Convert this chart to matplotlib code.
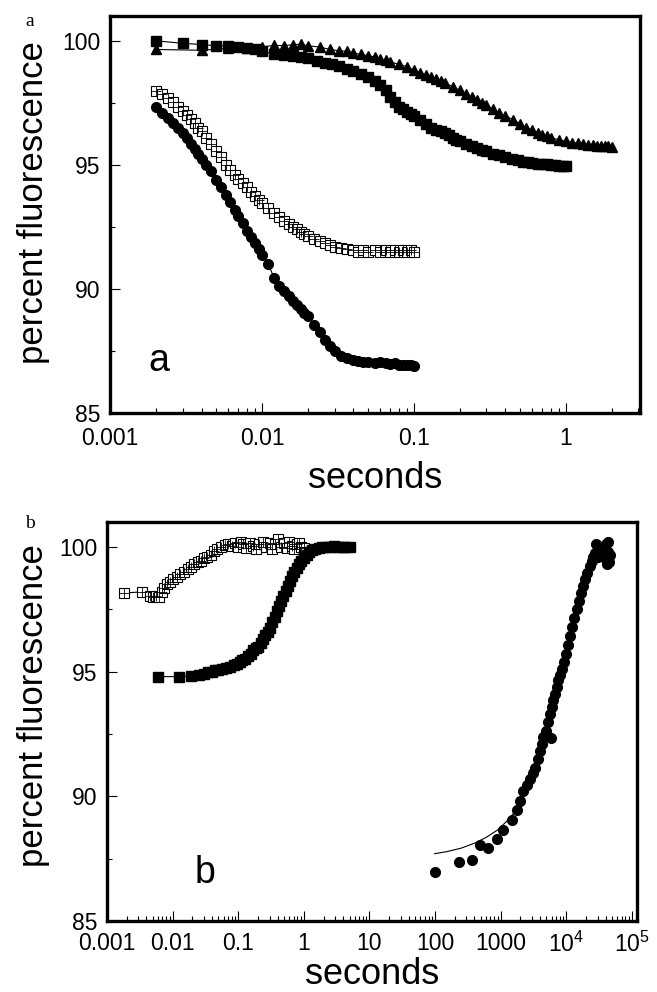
import matplotlib
matplotlib.use("Agg")
import matplotlib.pyplot as plt
from matplotlib.ticker import FixedLocator, FixedFormatter, LogLocator, NullFormatter

plt.rcParams['font.family'] = ['Liberation Sans', 'DejaVu Sans']
plt.rcParams['mathtext.fontset'] = 'custom'
plt.rcParams['mathtext.rm'] = 'Liberation Sans'
plt.rcParams['mathtext.it'] = 'Liberation Sans'

# ---------------- panel a data ----------------
a_sq_x = [0.002, 0.003, 0.004, 0.005, 0.006, 0.007, 0.008, 0.009, 0.010, 0.012, 0.014, 0.016,
          0.018, 0.020, 0.023, 0.026, 0.029, 0.032, 0.036, 0.040, 0.045, 0.050, 0.055, 0.060,
          0.065, 0.070, 0.075, 0.080, 0.085, 0.090, 0.095, 0.10, 0.11, 0.12, 0.13, 0.14, 0.15,
          0.16, 0.17, 0.18, 0.19, 0.20, 0.22, 0.24, 0.26, 0.28, 0.30, 0.33, 0.36, 0.40, 0.44,
          0.48, 0.52, 0.56, 0.60, 0.65, 0.70, 0.75, 0.80, 0.85, 0.90, 0.95, 1.0]
a_sq_y = [100.0, 99.9, 99.85, 99.8, 99.78, 99.75, 99.7, 99.66, 99.6, 99.45, 99.42, 99.4,
          99.33, 99.3, 99.2, 99.12, 99.05, 98.98, 98.86, 98.78, 98.65, 98.55, 98.4, 98.2,
          98.0, 97.75, 97.55, 97.35, 97.25, 97.15, 97.05, 96.95, 96.8, 96.65, 96.5, 96.42, 96.35,
          96.28, 96.2, 96.1, 96.0, 95.95, 95.85, 95.75, 95.68, 95.6, 95.55, 95.45, 95.38, 95.3, 95.22,
          95.18, 95.12, 95.1, 95.08, 95.05, 95.05, 95.02, 95.0, 94.98, 94.97, 94.95, 94.95]

a_tri_x = [0.002, 0.004, 0.006, 0.008, 0.010, 0.012, 0.014, 0.016, 0.018, 0.020, 0.024, 0.028,
           0.032, 0.036, 0.040, 0.045, 0.050, 0.055, 0.060, 0.065, 0.070, 0.080, 0.090, 0.10,
           0.11, 0.12, 0.13, 0.14, 0.15, 0.16, 0.18, 0.20, 0.22, 0.24, 0.26, 0.28, 0.30, 0.33,
           0.36, 0.40, 0.45, 0.50, 0.55, 0.60, 0.65, 0.70, 0.75, 0.80, 0.90, 1.0, 1.1, 1.2, 1.3,
           1.4, 1.5, 1.6, 1.7, 1.8, 1.9, 2.0]
a_tri_y = [99.65, 99.62, 99.7, 99.72, 99.75, 99.82, 99.8, 99.85, 99.86, 99.8, 99.75, 99.65,
           99.6, 99.58, 99.5, 99.45, 99.4, 99.35, 99.25, 99.22, 99.15, 99.05, 98.95, 98.82,
           98.72, 98.62, 98.55, 98.45, 98.38, 98.3, 98.15, 98.0, 97.85, 97.72, 97.6, 97.5, 97.4, 97.25,
           97.1, 96.97, 96.82, 96.65, 96.5, 96.4, 96.3, 96.22, 96.15, 96.1, 96.0, 95.95, 95.9, 95.88, 95.85,
           95.82, 95.8, 95.78, 95.78, 95.75, 95.75, 95.72]

a_open_x = [0.0020, 0.0022, 0.0024, 0.0026, 0.0028, 0.0030, 0.0032, 0.0034, 0.0036, 0.0038, 0.0040,
            0.0043, 0.0046, 0.0050, 0.0054, 0.0058, 0.0062, 0.0066, 0.0070, 0.0075, 0.0080, 0.0085,
            0.0090, 0.0095, 0.010, 0.011, 0.012, 0.013, 0.014, 0.015, 0.016, 0.017, 0.018, 0.019,
            0.020, 0.022, 0.024, 0.026, 0.028, 0.030, 0.033, 0.036, 0.040, 0.043, 0.046, 0.050,
            0.055, 0.060, 0.065, 0.070, 0.075, 0.080, 0.085, 0.090, 0.095, 0.100]
a_open_y = [97.98, 97.85, 97.7, 97.55, 97.35, 97.17, 97.0, 96.85, 96.7, 96.5, 96.35,
            96.1, 95.85, 95.55, 95.3, 95.0, 94.8, 94.6, 94.45, 94.25, 94.1, 93.9,
            93.75, 93.6, 93.45, 93.25, 93.05, 92.9, 92.75, 92.6, 92.5, 92.4, 92.3, 92.2,
            92.12, 92.0, 91.92, 91.85, 91.78, 91.7, 91.65, 91.6, 91.55, 91.5, 91.55, 91.5,
            91.55, 91.5, 91.55, 91.5, 91.55, 91.5, 91.55, 91.5, 91.55, 91.5]

a_circ_x = [0.0020, 0.0022, 0.0024, 0.0026, 0.0028, 0.0030, 0.0032, 0.0034, 0.0036, 0.0038, 0.0040,
            0.0043, 0.0046, 0.0050, 0.0054, 0.0058, 0.0062, 0.0066, 0.0070, 0.0075, 0.0080, 0.0085,
            0.0090, 0.0095, 0.010, 0.011, 0.012, 0.013, 0.014, 0.015, 0.016, 0.017, 0.018, 0.019,
            0.020, 0.022, 0.024, 0.026, 0.028, 0.030, 0.033, 0.036, 0.040, 0.043, 0.046, 0.050,
            0.055, 0.060, 0.065, 0.070, 0.075, 0.080, 0.085, 0.090, 0.095, 0.100]
a_circ_y = [97.35, 97.1, 96.9, 96.7, 96.5, 96.3, 96.1, 95.85, 95.65, 95.45, 95.25,
            95.0, 94.75, 94.4, 94.1, 93.8, 93.5, 93.2, 92.95, 92.65, 92.35, 92.1,
            91.85, 91.6, 91.35, 91.0, 90.45, 90.1, 89.9, 89.7, 89.5, 89.35, 89.2, 89.05,
            88.9, 88.55, 88.25, 87.95, 87.7, 87.5, 87.3, 87.2, 87.12, 87.1, 87.05, 87.05,
            87.0, 87.05, 87.0, 86.98, 87.0, 86.95, 86.95, 86.92, 86.95, 86.9]

# ---------------- panel b data ----------------
b_open_x = [0.0018, 0.0034, 0.0045, 0.0050, 0.0055, 0.0062, 0.0068, 0.0075, 0.0082, 0.0090, 0.010,
            0.0115, 0.013, 0.015, 0.017, 0.019, 0.021, 0.024, 0.027, 0.030, 0.034, 0.038, 0.043,
            0.048, 0.055, 0.062, 0.070, 0.080, 0.09, 0.10, 0.11, 0.12, 0.13, 0.15, 0.17, 0.19,
            0.21, 0.24, 0.27, 0.30, 0.33, 0.37, 0.41, 0.45, 0.50, 0.55, 0.60, 0.66, 0.72, 0.78,
            0.85, 0.92, 1.0, 1.05]
b_open_y = [98.15, 98.2, 98.05, 98.0, 98.05, 98.0, 98.2, 98.35, 98.5, 98.6, 98.7,
            98.8, 98.9, 99.0, 99.1, 99.2, 99.3, 99.4, 99.45, 99.55, 99.6, 99.68, 99.85,
            99.92, 100.0, 100.08, 100.12, 100.05, 100.15, 100.0, 100.2, 100.1, 99.95, 100.15, 100.05, 99.9,
            100.1, 100.2, 100.0, 100.15, 99.9, 100.1, 100.3, 100.0, 100.15, 99.95, 100.2, 100.05, 99.9, 100.1,
            100.15, 100.0, 99.95, 99.8]

b_sq_x = [0.006, 0.0125, 0.019, 0.025, 0.03, 0.035, 0.04, 0.045, 0.05, 0.057, 0.065, 0.075, 0.085,
          0.095, 0.105, 0.115, 0.125, 0.14, 0.155, 0.17, 0.185, 0.2, 0.22, 0.24, 0.26, 0.28, 0.30,
          0.33, 0.36, 0.39, 0.42, 0.45, 0.49, 0.53, 0.57, 0.62, 0.67, 0.72, 0.78, 0.85, 0.92, 1.0,
          1.1, 1.2, 1.35, 1.5, 1.7, 1.9, 2.2, 2.5, 2.9, 3.3, 3.8, 4.3, 5.0]
b_sq_y = [94.8, 94.8, 94.82, 94.88, 94.92, 94.97, 95.0, 95.05, 95.08, 95.1, 95.15, 95.2, 95.25,
          95.3, 95.38, 95.45, 95.52, 95.62, 95.72, 95.85, 95.95, 96.0, 96.15, 96.3, 96.45, 96.6, 96.75,
          96.98, 97.2, 97.45, 97.65, 97.85, 98.05, 98.25, 98.45, 98.65, 98.85, 99.0, 99.15, 99.3, 99.42, 99.55,
          99.68, 99.78, 99.86, 99.92, 99.96, 99.98, 100.0, 100.0, 100.02, 100.0, 100.0, 100.0, 100.0]

b_circ_x = [99, 235, 366, 490, 632, 880, 1100, 1480, 1760, 2000, 2220, 2500, 2800, 3100, 3350,
            3700, 4000, 4300, 4470, 5780, 5000, 5320, 5700, 6000, 6330, 6700, 7130, 7600, 8000,
            8500, 9200, 10100, 10800, 11400, 12200, 13200, 14400, 15500, 16800, 18100, 19500,
            21000, 22900, 24500, 26000, 27500, 28900, 30000, 32000, 34000, 36000, 38000, 40000,
            41000, 43400, 44000, 46000, 45000, 42000]
b_circ_y = [86.95, 87.37, 87.45, 88.04, 87.94, 88.28, 88.65, 89.06, 89.46, 89.8, 90.2, 90.45, 90.68, 90.95, 91.15,
            91.5, 91.82, 92.1, 92.36, 92.34, 92.6, 92.97, 93.3, 93.6, 93.85, 94.1, 94.39, 94.65, 94.85,
            95.1, 95.4, 95.7, 96.05, 96.42, 96.8, 97.15, 97.5, 97.85, 98.15, 98.44, 98.7,
            98.95, 99.25, 99.45, 99.6, 99.75, 100.13, 99.6, 99.8, 99.9, 99.7, 100.0, 99.5,
            100.1, 100.2, 99.8, 99.66, 99.4, 99.3]
b_fit_x = [99, 150, 250, 400, 600, 900, 1300, 1800, 2500, 3500, 5000, 7000, 10000, 14000, 20000, 28000, 40000, 45000]
b_fit_y = [87.7, 87.78, 87.92, 88.12, 88.35, 88.65, 89.05, 89.5, 90.25, 91.3, 92.7, 94.25, 95.85, 97.4, 98.75, 99.6, 100.0, 100.05]

# axis ticks / labels
y_major = [85, 90, 95, 100]
y_labels = ['85', '90', '95', '100']
y_minor = [87.5, 92.5, 97.5]
a_xticks = [0.001, 0.01, 0.1, 1]
a_xlabels = ['0.001', '0.01', '0.1', '1']
b_xticks = [0.001, 0.01, 0.1, 1, 10, 100, 1000, 1e4, 1e5]
b_xlabels = ['0.001', '0.01', '0.1', '1', '10', '100', '1000', r'$10^4$', r'$10^5$']

W, H = 657.0, 992.0
fig = plt.figure(figsize=(W / 100, H / 100), dpi=100)
# top panel: x 110..640, y 16..413 ; bottom panel: x 107..637, y 522..921
axA = fig.add_axes([110 / W, 1 - 413 / H, 530 / W, 397 / H])
axB = fig.add_axes([107 / W, 1 - 921 / H, 530 / W, 399 / H])

lw_fit = 0.8
ms = 7
# panel a
axA.plot(a_sq_x, a_sq_y, '-', color='black', lw=lw_fit, zorder=2)
axA.plot(a_sq_x, a_sq_y, 's', color='black', ms=ms, zorder=3)
axA.plot(a_tri_x, a_tri_y, '-', color='black', lw=lw_fit, zorder=2)
axA.plot(a_tri_x, a_tri_y, '^', color='black', ms=ms + 0.5, zorder=3)
axA.plot(a_open_x, a_open_y, '-', color='black', lw=lw_fit, zorder=2)
axA.plot(a_open_x, a_open_y, 's', mfc='white', mec='black', mew=0.8, ms=ms, zorder=3)
axA.plot(a_open_x, a_open_y, '+', color='black', mew=0.6, ms=ms, zorder=4)
axA.plot(a_circ_x, a_circ_y, '-', color='black', lw=lw_fit, zorder=2)
axA.plot(a_circ_x, a_circ_y, 'o', color='black', ms=ms, zorder=3)

# panel b
axB.plot(b_open_x, b_open_y, '-', color='black', lw=lw_fit, zorder=2)
axB.plot(b_open_x, b_open_y, 's', mfc='white', mec='black', mew=0.8, ms=ms, zorder=3)
axB.plot(b_open_x, b_open_y, '+', color='black', mew=0.6, ms=ms, zorder=4)
axB.plot(b_sq_x, b_sq_y, '-', color='black', lw=lw_fit, zorder=2)
axB.plot(b_sq_x, b_sq_y, 's', color='black', ms=ms, zorder=3)
axB.plot(b_fit_x, b_fit_y, '-', color='black', lw=lw_fit, zorder=2)
axB.plot(b_circ_x, b_circ_y, 'o', color='black', ms=ms, lw=0, zorder=3)

for ax, xt, xl, xlim, xpad, lpad in [(axA, a_xticks, a_xlabels, (0.001, 3.07), 10, 8),
                                     (axB, b_xticks, b_xlabels, (0.001, 1.2e5), 8, 0)]:
    ax.set_xscale('log')
    ax.set_xlim(*xlim)
    ax.set_ylim(85, 101)
    ax.xaxis.set_major_locator(FixedLocator(xt))
    ax.xaxis.set_major_formatter(FixedFormatter(xl))
    ax.xaxis.set_minor_locator(LogLocator(base=10, subs=range(2, 10), numticks=30))
    ax.xaxis.set_minor_formatter(NullFormatter())
    ax.yaxis.set_major_locator(FixedLocator(y_major))
    ax.yaxis.set_major_formatter(FixedFormatter(y_labels))
    ax.yaxis.set_minor_locator(FixedLocator(y_minor))
    ax.tick_params(which='major', direction='in', length=7, width=0.8, labelsize=16.5, pad=7)
    ax.tick_params(which='minor', direction='in', length=3.5, width=0.8)
    ax.tick_params(axis='x', which='major', pad=xpad)
    ax.tick_params(top=False, right=False, which='both')
    for s in ax.spines.values():
        s.set_linewidth(2.4)
    ax.set_xlabel('seconds', fontsize=26, labelpad=lpad)
    ax.set_ylabel('percent fluorescence', fontsize=25)

axA.yaxis.set_label_coords(-0.113, 0.53)
axB.yaxis.set_label_coords(-0.108, 0.54)

axA.text(0.072, 0.13, 'a', transform=axA.transAxes, fontsize=27, ha='left', va='center')
axB.text(0.166, 0.12, 'b', transform=axB.transAxes, fontsize=27, ha='left', va='center')
fig.text(30 / W, 1 - 22 / H, 'a', fontsize=14, family='Liberation Serif', ha='center', va='center')
fig.text(30 / W, 1 - 524 / H, 'b', fontsize=14, family='Liberation Serif', ha='center', va='center')

fig.savefig('out.png', dpi=100)
